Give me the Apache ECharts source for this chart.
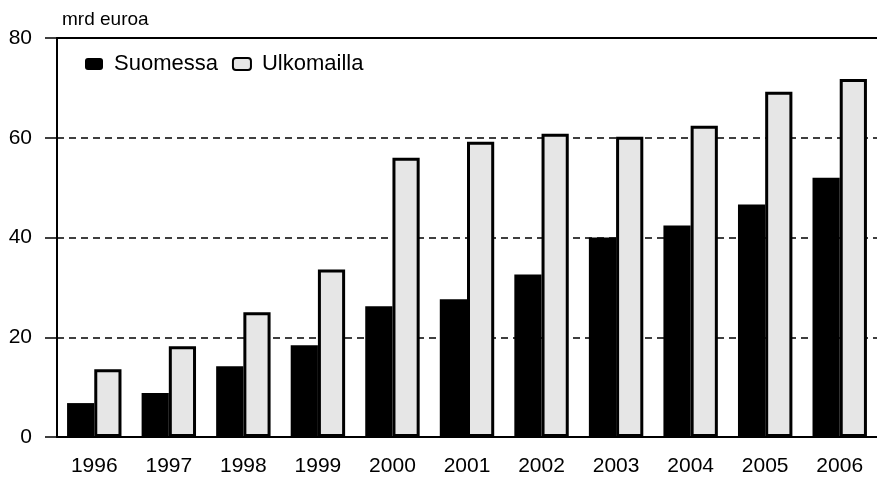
<!DOCTYPE html>
<html><head><meta charset="utf-8">
<script src="https://cdn.jsdelivr.net/npm/echarts@6/dist/echarts.min.js"></script>
<style>html,body{margin:0;padding:0;background:#fff}#c{width:877px;height:477px}</style>
</head><body><div id="c"></div>
<script>
var years = ['1996','1997','1998','1999','2000','2001','2002','2003','2004','2005','2006'];
var suomessa = [6.8, 8.8, 14.2, 18.4, 26.2, 27.6, 32.6, 40.0, 42.4, 46.6, 52.0];
var ulkomailla = [13.6, 18.2, 25.0, 33.6, 56.0, 59.2, 60.8, 60.2, 62.4, 69.2, 71.8];
var yTicks = [0, 20, 40, 60, 80];
var unitLabel = 'mrd euroa';

var font = 'Liberation Sans, Arial, sans-serif';
var chart = echarts.init(document.getElementById('c'), null, {renderer: 'canvas'});
chart.setOption({
  animation: false,
  backgroundColor: '#fff',
  title: {text: unitLabel, left: 57, top: 5, textStyle: {fontFamily: font, fontSize: 19, fontWeight: 'normal', color: '#000'}},
  legend: {
    left: 85, top: 53, padding: 0, itemWidth: 18, itemHeight: 12, itemGap: 14,
    textStyle: {fontFamily: font, fontSize: 22, color: '#000', padding: [0, 0, 0, 6]},
    data: ['Suomessa', 'Ulkomailla']
  },
  grid: {left: 57, top: 38, bottom: 40, right: -8, containLabel: false},
  xAxis: [{
    type: 'category', data: years, position: 'bottom',
    axisLine: {lineStyle: {color: '#000', width: 2}},
    axisTick: {alignWithLabel: true, length: 9, lineStyle: {color: '#000', width: 1.5}},
    axisLabel: {fontFamily: font, fontSize: 21, color: '#000', margin: 19}
  }, {
    type: 'category', data: years, position: 'top',
    axisLine: {show: true, lineStyle: {color: '#000', width: 2}},
    axisTick: {show: false}, axisLabel: {show: false}
  }],
  yAxis: {
    type: 'value', min: yTicks[0], max: yTicks[yTicks.length - 1], interval: 20,
    axisLine: {show: true, lineStyle: {color: '#000', width: 2}},
    axisTick: {show: true, length: 12, lineStyle: {color: '#000', width: 1.5}},
    axisLabel: {fontFamily: font, fontSize: 21, color: '#000', margin: 25},
    splitLine: {show: true, lineStyle: {color: '#000', width: 1.5, type: [7, 5]}}
  },
  series: [{
    name: 'Suomessa', type: 'bar', data: suomessa, barGap: '0%', barCategoryGap: '27%',
    itemStyle: {color: '#000'}
  }, {
    name: 'Ulkomailla', type: 'bar', data: ulkomailla, barGap: '0%', barCategoryGap: '27%',
    itemStyle: {color: '#e6e6e6', borderColor: '#000', borderWidth: 3}
  }]
});
</script></body></html>
